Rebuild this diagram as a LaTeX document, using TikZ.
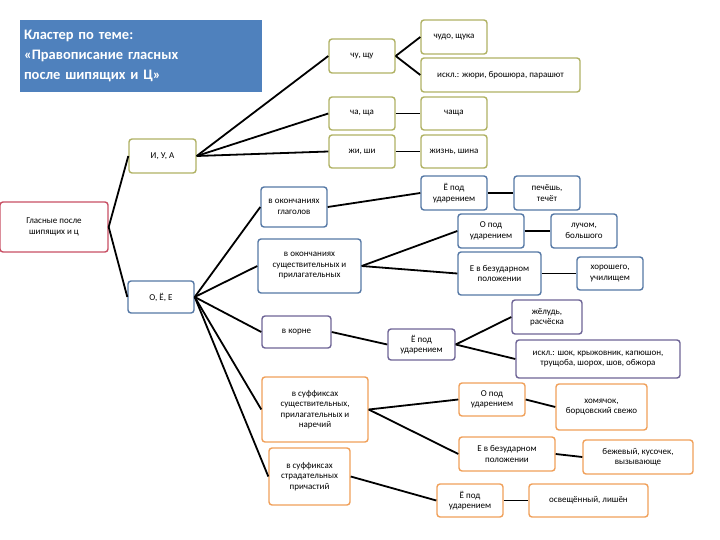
\documentclass[tikz,border=0pt]{standalone}
\usepackage{fontspec}
\setmainfont{Carlito}
\usepackage{tikz}
\usetikzlibrary{positioning,calc}

\definecolor{olv}{RGB}{176,178,100}
\definecolor{blu}{RGB}{85,120,165}
\definecolor{prp}{RGB}{110,100,150}
\definecolor{org}{RGB}{240,160,90}
\definecolor{rd}{RGB}{200,80,100}
\definecolor{ttl}{RGB}{79,129,189}

\tikzset{
	box/.style={draw=#1,line width=1.4pt,rounded corners=3pt,fill=white,align=center,
		inner sep=1pt,font=\fontsize{9}{10.5}\selectfont},
	sz/.style 2 args={minimum width=#1pt,minimum height=#2pt},
	link/.style={line width=1.8pt,black}
}

\begin{document}
\begin{tikzpicture}[x=1pt,y=-1pt]
	\useasboundingbox (0,0) rectangle (720,540);

	\node[fill=ttl,sz={242}{72},text=white,align=left,font=\fontsize{14.5}{20}\selectfont\bfseries,text width=234pt] (title) at (141,56)
		{Кластер по теме:\\«Правописание гласных\\после шипящих и Ц»};

	\node[box=rd ,sz={108}{50}] (root) at ( 54,227) {Гласные после\\шипящих и ц};
	\node[box=olv,sz={67}{34}] (iua)  at (162.5,156) {И, У, А};
	\node[box=blu,sz={66}{32}] (oee)  at (161,297) {О, Ё, Е};

	% И, У, А
	\node[box=olv,sz={66}{34}]  (chu)    at (362,56)    {чу, щу};
	\node[box=olv,sz={66}{34}]  (chudo)  at (454,37)    {чудо, щука};
	\node[box=olv,sz={159}{34}] (iskla)  at (500.5,75)  {искл.: жюри, брошюра, парашют};
	\node[box=olv,sz={66}{33}]  (cha)    at (362,113.5) {ча, ща};
	\node[box=olv,sz={66}{33}]  (chascha) at (454,113.5) {чаща};
	\node[box=olv,sz={66}{33}]  (zhi)    at (362,151.5) {жи, ши};
	\node[box=olv,sz={66}{33}]  (zhizn)  at (454,151.5) {жизнь, шина};

	% окончания
	\node[box=blu,sz={66}{40}]  (glag)   at (294,207)   {в окончаниях\\глаголов};
	\node[box=blu,sz={103}{54}] (susch)  at (309.5,266) {в окончаниях\\существительных и\\прилагательных};
	\node[box=blu,sz={66}{34}]  (yoa)    at (454,193)   {Ё под\\ударением};
	\node[box=blu,sz={66}{34}]  (pech)   at (547,193)   {печёшь,\\течёт};
	\node[box=blu,sz={66}{34}]  (oa)     at (491,231)   {О под\\ударением};
	\node[box=blu,sz={66}{34}]  (luch)   at (584,231)   {лучом,\\большого};
	\node[box=blu,sz={83}{43}]  (ea)     at (499.5,273.5) {Е в безударном\\положении};
	\node[box=blu,sz={66}{33}]  (hor)    at (610,273.5) {хорошего,\\училищем};

	% корень
	\node[box=prp,sz={69}{32}]  (koren)  at (296.5,332) {в корне};
	\node[box=prp,sz={67}{31}]  (yob)    at (421.5,344.5) {Ё под\\ударением};
	\node[box=prp,sz={70}{34}]  (zhel)   at (547,317)   {жёлудь,\\расчёска};
	\node[box=prp,sz={164}{38}] (isklb)  at (598,359)   {искл.: шок, крыжовник, капюшон,\\трущоба, шорох, шов, обжора};

	% суффиксы
	\node[box=org,sz={106}{65}] (suff)   at (315,409.5) {в суффиксах\\существительных,\\прилагательных и\\наречий};
	\node[box=org,sz={66}{33}]  (ob)     at (492,399.5) {О под\\ударением};
	\node[box=org,sz={91}{46}]  (hom)    at (601.5,407) {хомячок,\\борцовский свежо};
	\node[box=org,sz={96}{34}]  (eb)     at (507,454)   {Е в безударном\\положении};
	\node[box=org,sz={110}{34}] (bezh)   at (638,457)   {бежевый, кусочек,\\вызывающе};
	\node[box=org,sz={81}{57}]  (strad)  at (309.5,476.5) {в суффиксах\\страдательных\\причастий};
	\node[box=org,sz={66}{33}]  (yoc)    at (470,500.5) {Ё под\\ударением};
	\node[box=org,sz={119}{33}] (osv)    at (588.5,500.5) {освещённый, лишён};

	\foreach \a/\b in {root/iua,root/oee,iua/chu,iua/cha,iua/zhi,chu/chudo,chu/iskla,cha/chascha,zhi/zhizn,
		oee/glag,oee/susch,oee/koren,oee/suff,oee/strad,glag/yoa,yoa/pech,susch/oa,susch/ea,oa/luch,ea/hor,
		koren/yob,yob/zhel,yob/isklb,suff/ob,suff/eb,ob/hom,eb/bezh,strad/yoc,yoc/osv}
		\draw[link] (\a.east) -- (\b.west);
\end{tikzpicture}
\end{document}
